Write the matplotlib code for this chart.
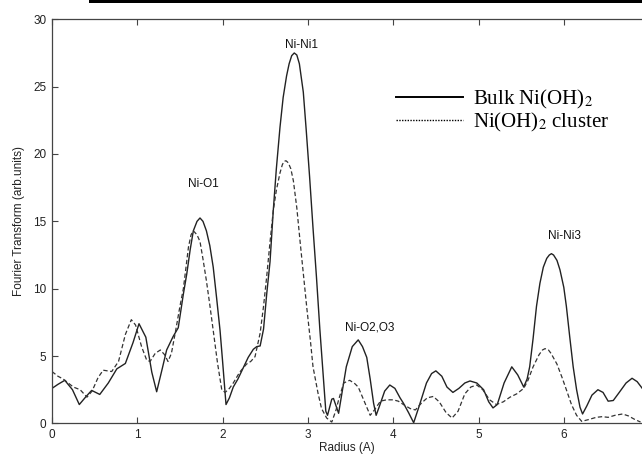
import matplotlib
matplotlib.use("Agg")
import matplotlib.pyplot as plt
from matplotlib.lines import Line2D
from matplotlib.patches import Rectangle

# ---------------------------------------------------------------------------
# Data
# ---------------------------------------------------------------------------

bulk_r = [0.00, 0.07, 0.15, 0.24, 0.32, 0.40, 0.465, 0.56, 0.66, 0.76, 0.86, 0.95,
          1.02, 1.10, 1.17, 1.227, 1.29, 1.344, 1.42, 1.48, 1.54, 1.58, 1.62, 1.657,
          1.70, 1.735, 1.77, 1.81, 1.85, 1.89, 1.93, 1.97, 2.00, 2.04, 2.08, 2.125,
          2.18, 2.24, 2.30, 2.36, 2.40, 2.44, 2.48, 2.517, 2.556, 2.594, 2.63, 2.673,
          2.71, 2.75, 2.78, 2.81, 2.84, 2.87, 2.90, 2.946, 2.98, 3.02, 3.06, 3.10,
          3.14, 3.18, 3.21, 3.23, 3.28, 3.30, 3.36, 3.40, 3.45, 3.52, 3.59, 3.64,
          3.69, 3.73, 3.77, 3.80, 3.84, 3.90, 3.96, 4.02, 4.08, 4.12, 4.18, 4.24,
          4.30, 4.39, 4.45, 4.50, 4.57, 4.63, 4.70, 4.77, 4.84, 4.90, 4.98, 5.06,
          5.12, 5.17, 5.22, 5.30, 5.39, 5.46, 5.53, 5.57, 5.60, 5.64, 5.68, 5.72,
          5.76, 5.80, 5.83, 5.855, 5.88, 5.92, 5.955, 6.00, 6.03, 6.07, 6.11, 6.15,
          6.19, 6.22, 6.27, 6.33, 6.40, 6.46, 6.52, 6.58, 6.65, 6.73, 6.80, 6.86,
          6.92]
bulk_ft = [2.6, 2.9, 3.2, 2.5, 1.4, 2.0, 2.45, 2.15, 3.0, 4.05, 4.45, 6.0,
           7.4, 6.4, 3.8, 2.35, 4.0, 5.45, 6.45, 7.1, 9.6, 11.1, 12.9, 14.3,
           15.0, 15.25, 15.0, 14.3, 13.2, 11.6, 9.3, 6.9, 4.6, 1.4, 1.9, 2.7,
           3.3, 4.1, 4.9, 5.5, 5.7, 5.75, 7.0, 9.6, 12.0, 15.8, 18.9, 22.0,
           24.2, 25.8, 26.7, 27.3, 27.5, 27.35, 26.7, 24.6, 21.8, 18.3, 14.5, 10.9,
           7.0, 3.5, 0.9, 0.6, 1.8, 1.85, 0.75, 2.3, 4.2, 5.7, 6.2, 5.7,
           4.9, 3.3, 1.5, 0.6, 1.3, 2.4, 2.85, 2.6, 1.9, 1.5, 0.8, 0.05,
           1.2, 3.0, 3.7, 3.9, 3.5, 2.7, 2.3, 2.6, 3.0, 3.15, 3.0, 2.5,
           1.6, 1.15, 1.4, 3.0, 4.2, 3.6, 2.7, 3.3, 4.2, 6.3, 8.7, 10.4,
           11.6, 12.25, 12.5, 12.6, 12.5, 12.1, 11.4, 10.1, 8.7, 6.4, 4.2, 2.5,
           1.2, 0.7, 1.3, 2.1, 2.5, 2.3, 1.65, 1.7, 2.3, 3.0, 3.35, 3.1,
           2.6]

cluster_r = [0.00, 0.07, 0.13, 0.25, 0.33, 0.41, 0.47, 0.54, 0.60, 0.70, 0.78, 0.86,
             0.93, 0.98, 1.05, 1.11, 1.15, 1.21, 1.27, 1.32, 1.36, 1.40, 1.45, 1.50,
             1.54, 1.60, 1.63, 1.657, 1.70, 1.735, 1.77, 1.81, 1.85, 1.89, 1.94, 1.99,
             2.03, 2.08, 2.125, 2.20, 2.28, 2.33, 2.38, 2.44, 2.48, 2.517, 2.555, 2.594,
             2.63, 2.673, 2.70, 2.72, 2.743, 2.77, 2.80, 2.83, 2.87, 2.91, 2.95, 2.99,
             3.03, 3.06, 3.12, 3.16, 3.22, 3.28, 3.33, 3.36, 3.42, 3.49, 3.55, 3.59,
             3.65, 3.69, 3.73, 3.78, 3.85, 3.92, 4.00, 4.06, 4.12, 4.20, 4.26, 4.33,
             4.40, 4.47, 4.54, 4.62, 4.69, 4.76, 4.84, 4.91, 4.98, 5.05, 5.13, 5.21,
             5.29, 5.37, 5.45, 5.53, 5.58, 5.64, 5.71, 5.75, 5.78, 5.82, 5.85, 5.92,
             5.98, 6.03, 6.09, 6.15, 6.21, 6.30, 6.38, 6.45, 6.52, 6.60, 6.69, 6.76,
             6.83, 6.90]
cluster_ft = [3.85, 3.5, 3.3, 2.7, 2.5, 1.95, 2.4, 3.4, 3.95, 3.85, 4.6, 6.6,
              7.7, 7.3, 5.7, 4.7, 4.6, 5.2, 5.45, 5.1, 4.6, 5.2, 6.9, 8.7,
              10.0, 13.1, 14.0, 14.3, 14.0, 13.5, 12.2, 10.6, 8.8, 6.9, 4.5, 2.5,
              2.3, 2.6, 3.0, 3.8, 4.4, 4.6, 4.95, 6.7, 8.7, 10.9, 13.4, 15.8,
              17.3, 18.6, 19.2, 19.45, 19.5, 19.35, 18.9, 18.0, 16.0, 13.4, 10.9, 8.4,
              6.1, 4.2, 2.2, 1.1, 0.4, 0.1, 1.0, 1.75, 3.0, 3.2, 2.95, 2.7,
              1.8, 1.2, 0.6, 1.0, 1.65, 1.75, 1.75, 1.65, 1.4, 1.1, 1.0, 1.5,
              1.9, 2.0, 1.6, 0.8, 0.4, 0.9, 2.2, 2.7, 2.85, 2.5, 1.75, 1.4,
              1.6, 1.95, 2.2, 2.6, 3.2, 4.2, 5.1, 5.45, 5.55, 5.45, 5.2, 4.4,
              3.4, 2.5, 1.4, 0.6, 0.15, 0.3, 0.45, 0.5, 0.45, 0.6, 0.7, 0.55,
              0.3, 0.1]

peak_labels = ["Ni-O1", "Ni-Ni1", "Ni-O2,O3", "Ni-Ni3"]
peak_label_r = [1.78, 2.93, 3.73, 6.01]
peak_label_ft = [17.8, 28.1, 7.1, 13.9]

x_ticks = [0, 1, 2, 3, 4, 5, 6]
y_ticks = [0, 5, 10, 15, 20, 25, 30]

# ---------------------------------------------------------------------------
# Plot
# ---------------------------------------------------------------------------

SANS = "Liberation Sans"
SERIF = "Liberation Serif"
AXIS_COL = "#444444"
plt.rcParams["mathtext.fontset"] = "stix"

fig = plt.figure(figsize=(6.42, 4.59), dpi=100)
ax = fig.add_axes([52 / 642, 35.6 / 459, 590 / 642, 404.1 / 459])

ax.plot(bulk_r, bulk_ft, color="#222222", linewidth=1.0, linestyle="-")
ax.plot(cluster_r, cluster_ft, color="#333333", linewidth=0.9,
        linestyle=(0, (3.5, 2.0)))

for lab, xr, yf in zip(peak_labels, peak_label_r, peak_label_ft):
    ax.text(xr, yf, lab, ha="center", va="center", fontsize=8.5,
            family=SANS, color="#111111")

ax.set_xlim(0, 590 / 85.3)
ax.set_ylim(0, 30)
ax.set_xticks(x_ticks)
ax.set_yticks(y_ticks)
ax.tick_params(direction="in", length=4, width=0.8, colors=AXIS_COL,
               labelcolor="#222222", labelsize=8.5, top=True, right=False,
               pad=4)
for lbl in ax.get_xticklabels() + ax.get_yticklabels():
    lbl.set_family(SANS)
for side in ["left", "bottom", "top"]:
    ax.spines[side].set_color(AXIS_COL)
    ax.spines[side].set_linewidth(0.9)
ax.spines["right"].set_visible(False)

ax.set_xlabel("Radius (A)", fontsize=8.5, family=SANS, labelpad=1, color="#222222")
ax.set_ylabel("Fourier Transform (arb.units)", fontsize=8.5, family=SANS,
              labelpad=6, color="#222222")

handles = [Line2D([], [], color="black", linewidth=1.4, linestyle="-"),
           Line2D([], [], color="black", linewidth=1.0, linestyle=(0, (1, 1)))]
ax.legend(handles, ["Bulk Ni(OH)$_2$", "Ni(OH)$_2$ cluster"],
          loc="upper left", bbox_to_anchor=(344 / 590, 0.83), frameon=False,
          prop={"family": SERIF, "size": 15}, handlelength=3.2,
          handletextpad=0.5, labelspacing=0.0, borderaxespad=0,
          borderpad=0)

# black rule across the top of the page
fig.add_artist(Rectangle((89 / 642, 1 - 2.5 / 459), 1, 2.5 / 459,
                         transform=fig.transFigure, facecolor="black",
                         edgecolor="none"))

fig.savefig("out.png", dpi=100)
